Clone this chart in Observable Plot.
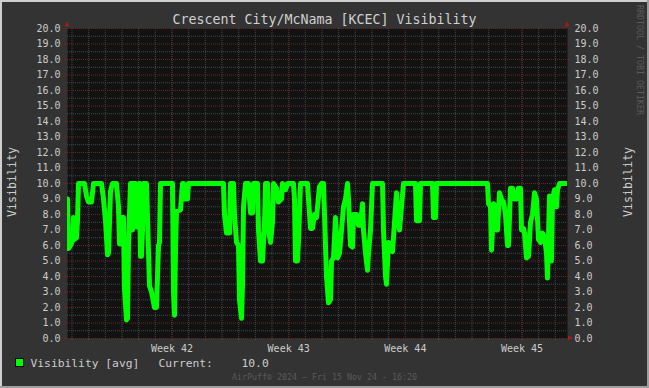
<!DOCTYPE html>
<html>
<head>
<meta charset="utf-8">
<script src="https://cdn.jsdelivr.net/npm/d3@7"></script>
<script src="https://cdn.jsdelivr.net/npm/@observablehq/plot@0.6"></script>
<style>
  html, body { margin: 0; padding: 0; background: #333; }
  svg text { white-space: pre; }
</style>
</head>
<body>
<div id="chart"></div>
<script>
// ---- data (x = days since start of the 30-day window) ----
const days = [0.00,0.06,0.18,0.30,0.36,0.42,0.54,0.60,0.66,1.02,1.14,1.26,1.44,1.56,2.04,2.16,2.28,2.40,2.46,2.58,2.70,2.94,3.06,3.12,3.24,3.30,3.36,3.42,3.54,3.60,3.66,3.78,3.84,3.90,3.96,4.08,4.14,4.20,4.32,4.38,4.44,4.50,4.56,4.74,4.80,4.92,5.04,5.22,5.34,5.46,5.52,5.58,6.30,6.36,6.42,6.48,6.54,6.78,6.90,6.96,7.02,7.20,7.26,9.36,9.42,9.54,9.72,9.78,9.96,10.02,10.14,10.26,10.32,10.44,10.50,10.56,10.68,10.86,10.98,11.10,11.16,11.40,11.46,11.58,11.70,11.82,11.88,12.00,12.06,12.18,12.30,12.36,12.54,12.66,12.84,12.90,13.08,13.20,13.56,13.62,13.68,13.80,13.86,13.98,14.40,14.46,14.58,14.70,14.82,14.94,15.12,15.24,15.36,15.42,15.54,15.66,15.78,15.84,15.96,16.08,16.20,16.32,16.44,16.56,16.68,16.80,16.86,16.98,17.10,17.16,17.34,17.46,17.58,17.70,17.76,17.88,18.00,18.06,18.18,18.30,18.90,18.96,19.08,19.14,19.26,19.44,19.50,19.62,19.74,19.80,19.92,20.04,20.16,20.88,20.94,21.12,21.18,21.90,21.96,22.08,22.14,25.20,25.26,25.38,25.44,25.50,25.56,25.68,25.74,25.80,25.92,26.04,26.16,26.28,26.40,26.46,26.58,26.70,26.82,26.94,27.06,27.18,27.24,27.36,27.42,27.54,27.66,27.78,27.90,28.02,28.14,28.26,28.38,28.50,28.62,28.74,28.80,28.92,28.98,29.04,29.10,29.22,29.34,29.40,29.52,29.94,30.00];
const visibility = [9.0,5.8,6.0,6.3,7.8,6.4,6.5,7.6,10.0,10.0,9.2,8.8,8.8,10.0,10.0,9.0,7.6,5.4,5.5,9.5,10.0,10.0,8.5,6.1,6.1,7.8,7.8,3.2,1.2,1.3,6.0,10.0,10.0,7.0,10.0,10.0,7.2,9.5,10.0,5.3,5.3,7.0,10.0,10.0,7.8,3.4,3.0,2.0,2.0,6.0,6.2,10.0,10.0,3.0,1.5,5.8,8.2,8.3,10.0,10.0,9.0,9.0,10.0,10.0,8.0,6.8,6.8,10.0,10.0,8.0,6.2,6.0,2.5,1.3,3.5,8.5,10.0,10.0,8.1,8.1,10.0,10.0,7.0,5.0,5.0,7.5,10.0,10.0,7.0,6.2,7.5,10.0,9.7,8.8,9.0,10.0,9.6,10.0,10.0,9.0,5.0,5.0,6.3,10.0,10.0,9.0,7.1,7.1,8.0,7.8,9.8,10.0,10.0,8.0,4.0,2.3,2.5,5.0,5.2,7.8,5.2,5.5,7.0,8.5,9.0,10.0,9.0,6.0,5.9,8.0,8.0,7.3,7.3,8.7,7.0,5.5,4.4,5.5,7.0,10.0,10.0,7.0,4.0,3.5,6.2,6.0,5.6,7.5,9.4,8.0,7.0,8.5,10.0,10.0,7.6,7.6,10.0,10.0,7.8,7.8,10.0,10.0,8.7,8.5,5.7,7.0,8.7,8.5,7.0,7.0,9.4,9.0,8.8,8.0,6.0,6.0,9.7,9.7,9.0,9.0,9.7,9.7,7.0,7.1,6.8,5.2,5.3,7.5,8.0,9.4,9.0,6.4,6.2,6.8,6.5,5.5,3.9,9.2,6.0,5.0,9.0,9.6,8.5,9.6,10.0,10.0,10.0];

const weekTicks = [6.27, 13.27, 20.27, 27.27];
const weekLabels = ["Week 42", "Week 43", "Week 44", "Week 45"];
const dayTicks = d3.range(0.27, 30, 1);
const yMajor = d3.range(0, 20.01, 1);
const yMinor = d3.range(0.5, 20, 1);

const titleText = "Crescent City/McNama [KCEC] Visibility";
const axisTitle = "Visibility";
const legendName = "Visibility [avg]";
const currentLabel = "Current:";
const currentValue = "10.0";
const footerText = "AirPuff\u00AE 2024 \u2013 Fri 15 Nov 24 - 16:20";
const watermark = "RRDTOOL / TOBI OETIKER";

const rows = days.map((d, i) => ({day: d, vis: visibility[i]}));

const majorColor = "#642727";
const minorColor = "#484848";
const green = "#00ff00";

const chart = Plot.plot({
  width: 649,
  height: 388,
  marginLeft: 67,
  marginRight: 82,
  marginTop: 28,
  marginBottom: 50,
  style: {background: "#333333", color: "#cccccc", fontFamily: "'DejaVu Sans Mono', monospace", fontSize: "10px"},
  x: {domain: [0, 30]},
  y: {domain: [0, 20]},
  marks: [
    Plot.frame({fill: "#121212", stroke: "none"}),
    Plot.ruleY(yMinor, {stroke: minorColor, strokeDasharray: "1,1"}),
    Plot.ruleX(dayTicks, {stroke: minorColor, strokeDasharray: "1,1"}),
    Plot.ruleY(yMajor, {stroke: majorColor, strokeDasharray: "1,1"}),
    Plot.ruleX(weekTicks, {stroke: majorColor, strokeDasharray: "1,1"}),
    Plot.line(rows, {x: "day", y: "vis", stroke: green, strokeWidth: 5, strokeLinejoin: "round", strokeLinecap: "round", clip: true}),
    Plot.axisY({anchor: "left", ticks: yMajor, tickSize: 3, tickPadding: 4, tickFormat: d => d.toFixed(1), label: null, stroke: majorColor, fill: "#cccccc"}),
    Plot.axisY({anchor: "right", ticks: yMajor, tickSize: 3, tickPadding: 4, tickFormat: d => d.toFixed(1), label: null, stroke: majorColor, fill: "#cccccc"}),
    Plot.axisX({ticks: dayTicks, tickSize: 2, tickFormat: () => "", label: null, stroke: minorColor}),
    Plot.axisX({ticks: weekTicks, tickSize: 3, tickPadding: 3, tickFormat: d => weekLabels[weekTicks.indexOf(d)], label: null, stroke: majorColor, fill: "#cccccc"})
  ]
});

const svg = d3.select(chart);

// outer shaded frame
svg.append("line").attr("x1", 0).attr("y1", 1).attr("x2", 649).attr("y2", 1).attr("stroke", "#cfcfcf").attr("stroke-width", 2);
svg.append("line").attr("x1", 1).attr("y1", 0).attr("x2", 1).attr("y2", 388).attr("stroke", "#cfcfcf").attr("stroke-width", 2);
svg.append("line").attr("x1", 0).attr("y1", 387).attr("x2", 649).attr("y2", 387).attr("stroke", "#9e9e9e").attr("stroke-width", 2);
svg.append("line").attr("x1", 648).attr("y1", 0).attr("x2", 648).attr("y2", 388).attr("stroke", "#9e9e9e").attr("stroke-width", 2);

// axis arrows
const arrowColor = "#a01c1c";
svg.append("path").attr("d", "M64.5,26.5 L67,21 L69.5,26.5 Z").attr("fill", arrowColor);
svg.append("path").attr("d", "M564.5,26.5 L567,21 L569.5,26.5 Z").attr("fill", arrowColor);
svg.append("path").attr("d", "M568,335.5 L573,338 L568,340.5 Z").attr("fill", arrowColor);

const font = "'DejaVu Sans Mono', monospace";
const addText = (x, y, t, attrs) => {
  const el = svg.append("text").attr("x", x).attr("y", y).attr("text-anchor", "start").attr("font-family", font).text(t);
  for (const k in attrs) el.attr(k, attrs[k]);
  return el;
};

// title
addText(324.5, 24, titleText, {"text-anchor": "middle", "font-size": 13.3, "fill": "#d0d0d0"});

// vertical axis titles
svg.append("text").attr("transform", "translate(16,182) rotate(-90)").attr("text-anchor", "middle")
  .attr("font-family", font).attr("font-size", 11.6).attr("fill", "#cccccc").text(axisTitle);
svg.append("text").attr("transform", "translate(632,182) rotate(-90)").attr("text-anchor", "middle")
  .attr("font-family", font).attr("font-size", 11.6).attr("fill", "#cccccc").text(axisTitle);

// watermark
svg.append("text").attr("transform", "translate(637,5) rotate(90)").attr("text-anchor", "start")
  .attr("font-family", font).attr("font-size", 8.3).attr("fill", "#5a5a5a").text(watermark);

// legend
svg.append("rect").attr("x", 15.5).attr("y", 358.5).attr("width", 8).attr("height", 8)
  .attr("fill", green).attr("stroke", "#000").attr("stroke-width", 1);
const lg = {"font-size": 11.3, "fill": "#cccccc"};
addText(30.5, 367, legendName, lg);
addText(158.5, 367, currentLabel, lg);
addText(241.5, 367, currentValue, lg);

// footer
addText(324.5, 380, footerText, {"font-size": 8.3, "fill": "#5a5a5a", "text-anchor": "middle"});

document.getElementById("chart").appendChild(chart);
</script>
</body>
</html>
